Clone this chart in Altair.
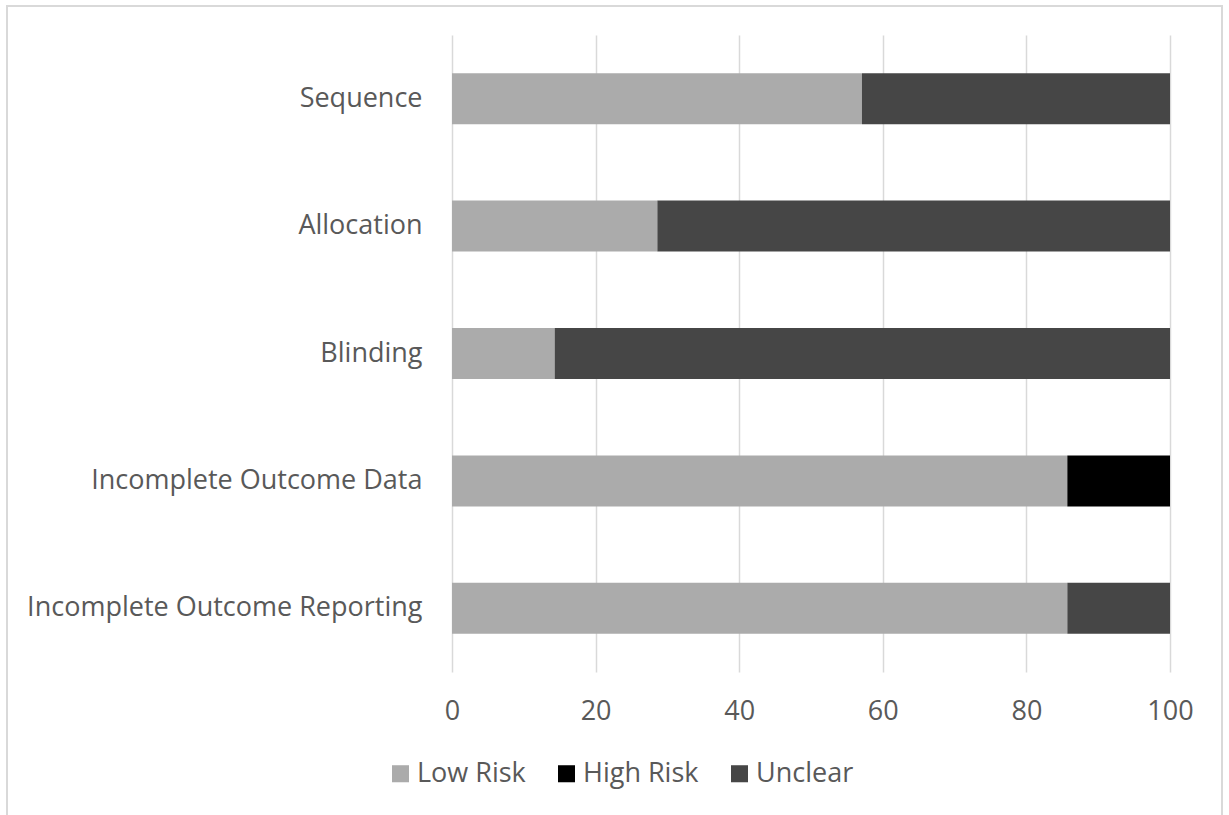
import altair as alt
import pandas as pd

categories = ["Sequence", "Allocation", "Blinding", "Incomplete Outcome Data", "Incomplete Outcome Reporting"]
low_risk = [57.1, 28.6, 14.3, 85.7, 85.7]
high_risk = [0.0, 0.0, 0.0, 14.3, 0.0]
unclear = [42.9, 71.4, 85.7, 0.0, 14.3]
series = ["Low Risk", "High Risk", "Unclear"]
colors = ["#ABABAB", "#000000", "#464646"]
x_ticks = [0, 20, 40, 60, 80, 100]

rows = []
for i, c in enumerate(categories):
    for k, (s, vals) in enumerate(zip(series, [low_risk, high_risk, unclear])):
        rows.append({"category": c, "series": s, "value": vals[i], "order": k})
df = pd.DataFrame(rows)

FONT = "Open Sans"
TXT = "#595959"
FS = 27

bars = alt.Chart(df).mark_bar().encode(
    y=alt.Y("category:N", sort=categories, title=None,
            scale=alt.Scale(paddingInner=0.6, paddingOuter=0.3),
            axis=alt.Axis(domain=False, ticks=False, labelPadding=30, labelFontSize=FS,
                          labelColor=TXT, labelFont=FONT, labelLimit=500)),
    x=alt.X("value:Q", stack="zero", title=None,
            scale=alt.Scale(domain=[0, 100], nice=False),
            axis=alt.Axis(values=x_ticks, domain=False, ticks=False, grid=True,
                          gridColor="#D9D9D9", gridWidth=1.5, labelPadding=26,
                          labelFlush=False, labelFontSize=FS, labelColor=TXT, labelFont=FONT)),
    color=alt.Color("series:N", sort=series,
                    scale=alt.Scale(domain=series, range=colors),
                    legend=alt.Legend(title=None, orient="none", direction="horizontal",
                                      legendX=-65, legendY=725, symbolType="square",
                                      symbolSize=290, symbolStrokeWidth=0, labelFontSize=FS,
                                      labelColor=TXT, labelFont=FONT, labelOffset=3,
                                      columnPadding=27, symbolOpacity=1)),
    order=alt.Order("order:Q"),
)

border = alt.Chart(pd.DataFrame({"a": [0]})).mark_rect(
    fill=None, stroke="#D9D9D9", strokeWidth=2
).encode(x=alt.value(-445), x2=alt.value(770), y=alt.value(-29), y2=alt.value(800))

chart = alt.layer(border, bars).properties(
    width=718, height=637,
    padding={"left": 452, "top": 35, "right": 59, "bottom": 143},
    autosize=alt.AutoSizeParams(type="none"),
    background="white",
).configure_view(stroke=None)

chart.save("out.html", embed_options={"renderer": "svg", "actions": False})
